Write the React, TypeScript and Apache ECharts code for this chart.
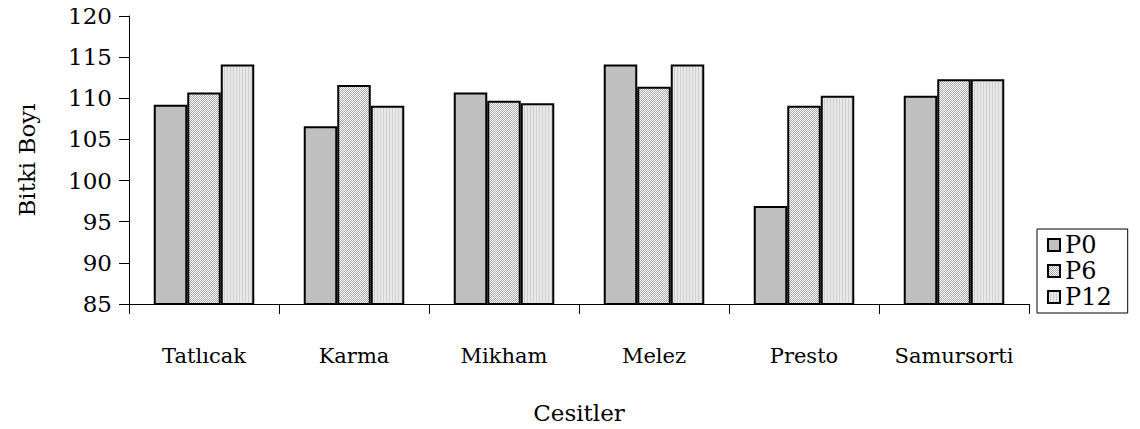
import React, { useEffect, useRef } from "react";
import * as echarts from "echarts";

const categories = ["Tatlıcak", "Karma", "Mikham", "Melez", "Presto", "Samursorti"];
const seriesNames = ["P0", "P6", "P12"];
const p0Values = [109.2, 106.6, 110.7, 114.1, 96.9, 110.3];
const p6Values = [110.7, 111.6, 109.7, 111.4, 109.1, 112.3];
const p12Values = [114.1, 109.1, 109.4, 114.1, 110.3, 112.3];
const yTicks = [85, 90, 95, 100, 105, 110, 115, 120];

const FONT = "DejaVu Serif";

// Small tiled fills: P6 is a fine checker, P12 has thin vertical stripes.
function makeTile(w: number, h: number, paint: (x: number, y: number) => string) {
  const c = document.createElement("canvas");
  c.width = w;
  c.height = h;
  const ctx = c.getContext("2d")!;
  for (let y = 0; y < h; y++) {
    for (let x = 0; x < w; x++) {
      ctx.fillStyle = paint(x, y);
      ctx.fillRect(x, y, 1, 1);
    }
  }
  return { image: c.toDataURL(), repeat: "repeat", imageWidth: w, imageHeight: h };
}

export default function App() {
  const ref = useRef<HTMLDivElement>(null);

  useEffect(() => {
    if (!ref.current) return;
    const chart = echarts.init(ref.current, null, { renderer: "svg" });

    const checker = makeTile(2, 2, (x, y) => ((x + y) % 2 === 0 ? "#ffffff" : "#a9a9a9"));
    const stripes = makeTile(3, 1, (x) => (x === 2 ? "#cfcfcf" : "#e8e8e8"));
    const fills: any[] = ["#c0c0c0", checker, stripes];
    const values = [p0Values, p6Values, p12Values];

    chart.setOption({
      animation: false,
      textStyle: { fontFamily: FONT, color: "#000" },
      grid: { left: 129, top: 16, right: 111, bottom: 118 },
      legend: {
        orient: "vertical",
        left: 1037,
        top: 229,
        padding: [4, 16, 4, 10],
        itemGap: 2,
        itemWidth: 12,
        itemHeight: 12,
        borderColor: "#000",
        borderWidth: 1,
        icon: "rect",
        textStyle: { fontFamily: FONT, fontSize: 24, color: "#000" },
        data: seriesNames,
      },
      xAxis: {
        type: "category",
        data: categories,
        name: "Çeşitler",
        nameLocation: "middle",
        nameGap: 97,
        nameTextStyle: { fontFamily: FONT, fontSize: 23, color: "#000" },
        axisLine: { lineStyle: { color: "#000", width: 1 } },
        axisTick: { show: true, interval: 0, length: 10, alignWithLabel: false, lineStyle: { color: "#000" } },
        axisLabel: { interval: 0, fontFamily: FONT, fontSize: 21, color: "#000", margin: 41 },
      },
      yAxis: {
        type: "value",
        min: yTicks[0],
        max: yTicks[yTicks.length - 1],
        interval: 5,
        name: "Bitki Boyı",
        nameLocation: "middle",
        nameGap: 91,
        nameRotate: 90,
        nameTextStyle: { fontFamily: FONT, fontSize: 23, color: "#000" },
        axisLine: { show: true, lineStyle: { color: "#000", width: 1 } },
        axisTick: { show: true, length: 10, lineStyle: { color: "#000" } },
        splitLine: { show: false },
        axisLabel: { fontFamily: FONT, fontSize: 23, color: "#000", margin: 17 },
      },
      series: seriesNames.map((name, i) => ({
        name,
        type: "bar",
        data: values[i],
        barGap: "0%",
        barCategoryGap: "33%",
        itemStyle: { color: fills[i], borderColor: "#000", borderWidth: 2 },
        emphasis: { disabled: true },
      })),
    });

    return () => chart.dispose();
  }, []);

  return <div ref={ref} style={{ width: 1140, height: 429, margin: -8 }} />;
}
